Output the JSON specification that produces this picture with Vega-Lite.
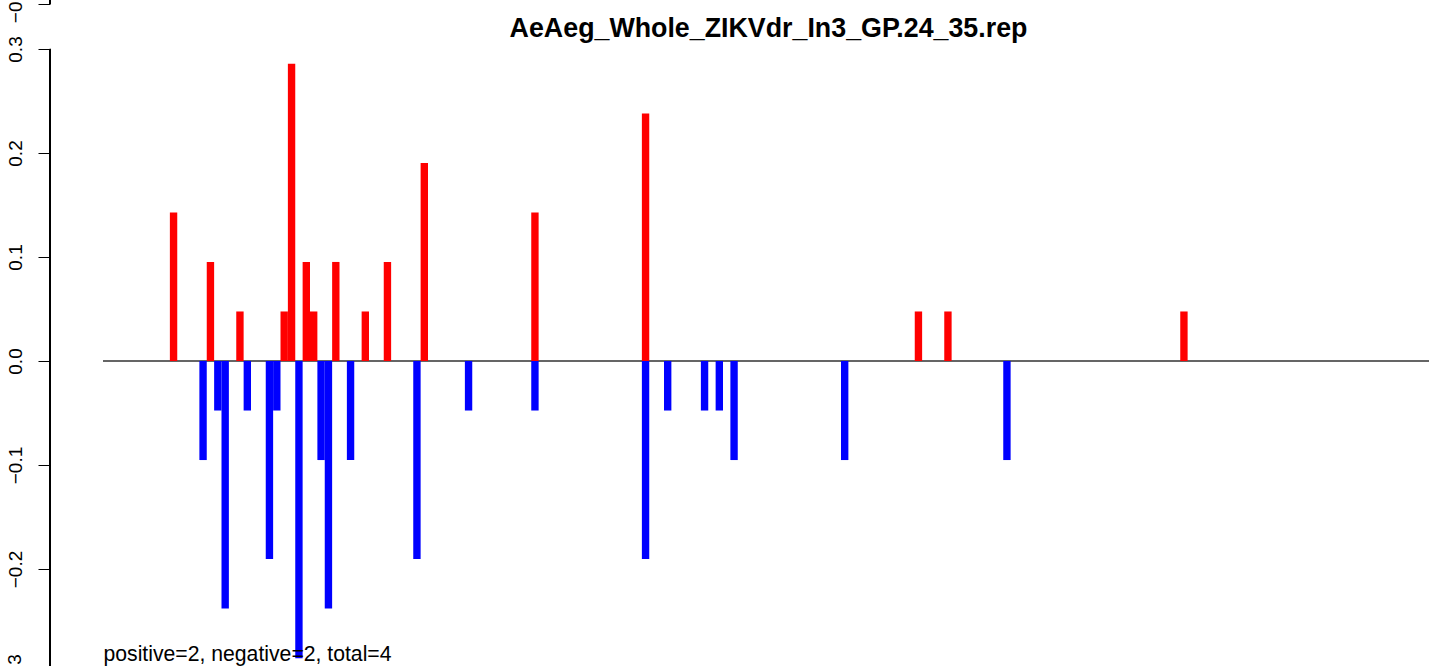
{
  "$schema": "https://vega.github.io/schema/vega-lite/v6.json",
  "autosize": {"type": "none"},
  "padding": {"left": 50, "top": 0, "right": 0, "bottom": 0},
  "width": 1379,
  "height": 666,
  "background": "white",
  "config": {"view": {"stroke": null}, "font": "Liberation Sans", "scale": {"continuousPadding": 0}},
  "data": {
    "values": [
      {"pos": 9, "value": 0.142857},
      {"pos": 14, "value": 0.095238},
      {"pos": 18, "value": 0.047619},
      {"pos": 24, "value": 0.047619},
      {"pos": 25, "value": 0.285714},
      {"pos": 27, "value": 0.095238},
      {"pos": 28, "value": 0.047619},
      {"pos": 31, "value": 0.095238},
      {"pos": 35, "value": 0.047619},
      {"pos": 38, "value": 0.095238},
      {"pos": 43, "value": 0.190476},
      {"pos": 58, "value": 0.142857},
      {"pos": 73, "value": 0.238095},
      {"pos": 110, "value": 0.047619},
      {"pos": 114, "value": 0.047619},
      {"pos": 146, "value": 0.047619},
      {"pos": 13, "value": -0.095238},
      {"pos": 15, "value": -0.047619},
      {"pos": 16, "value": -0.238095},
      {"pos": 19, "value": -0.047619},
      {"pos": 22, "value": -0.190476},
      {"pos": 23, "value": -0.047619},
      {"pos": 26, "value": -0.285714},
      {"pos": 29, "value": -0.095238},
      {"pos": 30, "value": -0.238095},
      {"pos": 33, "value": -0.095238},
      {"pos": 42, "value": -0.190476},
      {"pos": 49, "value": -0.047619},
      {"pos": 58, "value": -0.047619},
      {"pos": 73, "value": -0.190476},
      {"pos": 76, "value": -0.047619},
      {"pos": 81, "value": -0.047619},
      {"pos": 83, "value": -0.047619},
      {"pos": 85, "value": -0.095238},
      {"pos": 100, "value": -0.095238},
      {"pos": 122, "value": -0.095238}
    ]
  },
  "layer": [
    {
      "mark": {"type": "rule", "color": "#666666", "strokeWidth": 1.5},
      "encoding": {
        "x": {"datum": -0.5, "type": "quantitative", "scale": {"domain": [-7.7546, 179.2285], "nice": false, "zero": false, "padding": 0}, "axis": null},
        "x2": {"datum": 179.2285},
        "y": {"datum": 0, "type": "quantitative", "scale": {"domain": [-0.293269, 0.347115], "nice": false, "zero": false, "padding": 0}}
      }
    },
    {
      "mark": {"type": "bar", "width": 7.375},
      "encoding": {
        "x": {"field": "pos", "type": "quantitative", "scale": {"domain": [-7.7546, 179.2285], "nice": false, "zero": false, "padding": 0}, "axis": null},
        "y": {
          "field": "value",
          "type": "quantitative",
          "scale": {"domain": [-0.293269, 0.347115], "nice": false, "zero": false, "padding": 0},
          "axis": {
            "orient": "left",
            "values": [-0.3, -0.2, -0.1, 0, 0.1, 0.2, 0.3, 0.3433],
            "labelExpr": "datum.value > 0.32 ? '−0.3' : format(datum.value, '.1f')",
            "domain": false,
            "grid": false,
            "ticks": true,
            "tickSize": 12,
            "tickColor": "#000000",
            "tickWidth": 1,
            "labelAngle": 270,
            "labelAlign": "center",
            "labelBaseline": "alphabetic",
            "labelPadding": 17,
            "labelFont": "Liberation Sans",
            "labelFontSize": 19,
            "labelColor": "#000000",
            "labelFlush": false,
            "labelOverlap": false,
            "title": null
          }
        },
        "y2": {"datum": 0},
        "color": {
          "condition": {"test": "datum.value > 0", "value": "#ff0000"},
          "value": "#0000ff"
        }
      }
    },
    {
      "mark": {"type": "rule", "color": "#000000", "strokeWidth": 1},
      "encoding": {
        "x": {"datum": -7.7546, "type": "quantitative", "scale": {"domain": [-7.7546, 179.2285], "nice": false, "zero": false, "padding": 0}, "axis": null},
        "y": {"datum": -0.3, "type": "quantitative", "scale": {"domain": [-0.293269, 0.347115], "nice": false, "zero": false, "padding": 0}},
        "y2": {"datum": 0.3}
      }
    },
    {
      "mark": {"type": "rule", "color": "#000000", "strokeWidth": 1},
      "encoding": {
        "x": {"datum": -7.7546, "type": "quantitative", "scale": {"domain": [-7.7546, 179.2285], "nice": false, "zero": false, "padding": 0}, "axis": null},
        "y": {"datum": 0.3433, "type": "quantitative", "scale": {"domain": [-0.293269, 0.347115], "nice": false, "zero": false, "padding": 0}},
        "y2": {"datum": 0.36}
      }
    },
    {
      "data": {"values": [{"label": "−0.3"}]},
      "mark": {"type": "text", "align": "center", "baseline": "alphabetic", "angle": 270, "font": "Liberation Sans", "fontSize": 19, "color": "#000000"},
      "encoding": {
        "x": {"datum": -11.69, "type": "quantitative", "scale": {"domain": [-7.7546, 179.2285], "nice": false, "zero": false, "padding": 0}, "axis": null},
        "y": {"datum": -0.3, "type": "quantitative", "scale": {"domain": [-0.293269, 0.347115], "nice": false, "zero": false, "padding": 0}},
        "text": {"field": "label"}
      }
    },
    {
      "data": {"values": [{"label": "AeAeg_Whole_ZIKVdr_In3_GP.24_35.rep"}]},
      "mark": {"type": "text", "align": "center", "baseline": "alphabetic", "font": "Liberation Sans", "fontSize": 26.8, "fontWeight": "bold", "color": "#000000"},
      "encoding": {
        "x": {"datum": 89.67, "type": "quantitative", "scale": {"domain": [-7.7546, 179.2285], "nice": false, "zero": false, "padding": 0}, "axis": null},
        "y": {"datum": 0.3115, "type": "quantitative", "scale": {"domain": [-0.293269, 0.347115], "nice": false, "zero": false, "padding": 0}},
        "text": {"field": "label"}
      }
    },
    {
      "data": {"values": [{"label": "positive=2, negative=2, total=4"}]},
      "mark": {"type": "text", "align": "left", "baseline": "alphabetic", "font": "Liberation Sans", "fontSize": 21.2, "color": "#000000"},
      "encoding": {
        "x": {"datum": -0.5, "type": "quantitative", "scale": {"domain": [-7.7546, 179.2285], "nice": false, "zero": false, "padding": 0}, "axis": null},
        "y": {"datum": -0.2885, "type": "quantitative", "scale": {"domain": [-0.293269, 0.347115], "nice": false, "zero": false, "padding": 0}},
        "text": {"field": "label"}
      }
    }
  ]
}
